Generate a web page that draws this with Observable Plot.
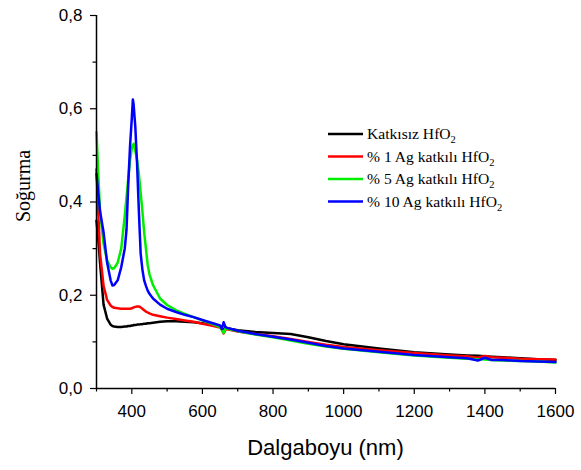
<!DOCTYPE html>
<html>
<head>
<meta charset="utf-8">
<script src="https://cdn.jsdelivr.net/npm/d3@7"></script>
<script src="https://cdn.jsdelivr.net/npm/@observablehq/plot@0.6"></script>
<style>
  html, body { margin: 0; padding: 0; background: white; }
  #chart { width: 581px; height: 470px; }
</style>
</head>
<body>
<div id="chart"></div>
<script>
const wavelength = [
  300,305,310,320,330,
  340,345,350,360,370,
  380,385,390,395,400,
  403,405,410,415,420,
  425,430,435,440,445,
  450,460,480,500,525,
  550,575,600,625,650,
  655,660,665,670,700,
  750,800,850,900,950,
  1000,1100,1200,1300,1350,
  1380,1400,1420,1450,1500,
  1550,1600
];
const katkisiz = [
  .36,.32,.27,.18,.15,
  .137,.134,.133,.132,.132,
  .133,.133,.134,.134,.135,
  .135,.136,.136,.137,.137,
  .138,.138,.139,.139,.140,
  .140,.141,.143,.144,.144,
  .143,.142,.140,.137,.133,
  .130,.124,.131,.129,.125,
  .121,.119,.117,.110,.102,
  .095,.086,.078,.073,.071,
  .070,.069,.068,.067,.065,
  .063,.061
];
const ag1 = [
  .47,.38,.29,.22,.19,
  .178,.175,.173,.172,.171,
  .171,.171,.171,.171,.172,
  .173,.174,.175,.176,.176,
  .174,.171,.168,.165,.163,
  .161,.158,.155,.152,.149,
  .146,.143,.139,.135,.131,
  .126,.118,.126,.127,.122,
  .117,.112,.106,.100,.094,
  .089,.082,.076,.071,.069,
  .066,.070,.067,.066,.064,
  .063,.062
];
const ag5 = [
  .55,.46,.38,.31,.275,
  .26,.257,.258,.27,.30,
  .37,.41,.45,.49,.515,
  .522,.525,.51,.49,.46,
  .42,.38,.335,.30,.265,
  .245,.222,.193,.179,.168,
  .160,.153,.146,.139,.132,
  .126,.119,.128,.128,.123,
  .116,.110,.103,.096,.090,
  .085,.078,.071,.066,.064,
  .063,.062,.061,.060,.059,
  .058,.056
];
const ag10 = [
  .46,.42,.38,.335,.27,
  .232,.221,.222,.232,.26,
  .30,.34,.44,.52,.58,
  .62,.61,.56,.48,.38,
  .29,.255,.232,.22,.21,
  .203,.193,.180,.171,.164,
  .158,.153,.147,.141,.135,
  .128,.142,.132,.130,.124,
  .117,.111,.105,.098,.091,
  .086,.079,.072,.067,.065,
  .060,.066,.061,.061,.059,
  .058,.057
];
const seriesNames = ["Katkısız HfO", "% 1 Ag katkılı HfO", "% 5 Ag katkılı HfO", "% 10 Ag katkılı HfO"];
const seriesValues = [katkisiz, ag1, ag5, ag10];
const seriesColors = ["#000000", "#ff0000", "#00ee00", "#0000ff"];
const xTicks = [400, 600, 800, 1000, 1200, 1400, 1600];
const xMinorTicks = [300, 500, 700, 900, 1100, 1300, 1500];
const yTicks = [0, 0.2, 0.4, 0.6, 0.8];
const yMinorTicks = [0.1, 0.3, 0.5, 0.7];
const xLabel = "Dalgaboyu (nm)";
const yLabel = "Soğurma";

const data = [];
seriesNames.forEach((name, i) => {
  wavelength.forEach((w, j) => data.push({series: name, wavelength: w, value: seriesValues[i][j]}));
});

const fmt = d => d.toFixed(1).replace(".", ",");

const plot = Plot.plot({
  width: 581,
  height: 470,
  marginLeft: 96,
  marginRight: 26,
  marginTop: 15,
  marginBottom: 82,
  x: {domain: [300, 1600]},
  y: {domain: [0, 0.8]},
  color: {domain: seriesNames, range: seriesColors},
  style: {fontFamily: "'Liberation Sans', Arial, sans-serif", fontSize: "17px", color: "black", background: "white", overflow: "visible"},
  marks: [
    Plot.axisX({ticks: xTicks, tickSize: 6, tickPadding: 10, tickFormat: d => String(d), label: null, stroke: "black", strokeWidth: 1.2, fill: "black"}),
    Plot.axisX({ticks: xMinorTicks, tickSize: 3.5, tickFormat: () => "", label: null, stroke: "black", strokeWidth: 1.2}),
    Plot.axisY({ticks: yTicks, tickSize: 6, tickPadding: 8, tickFormat: fmt, label: null, stroke: "black", strokeWidth: 1.2, fill: "black"}),
    Plot.axisY({ticks: yMinorTicks, tickSize: 3.5, tickFormat: () => "", label: null, stroke: "black", strokeWidth: 1.2}),
    Plot.lineY(data, {x: "wavelength", y: "value", stroke: "series", z: "series", strokeWidth: 2.5, strokeLinejoin: "round"}),
    Plot.ruleX([300], {stroke: "black", strokeWidth: 1.5}),
    Plot.ruleY([0], {stroke: "black", strokeWidth: 1.5})
  ]
});

const svg = d3.select(plot);
// axis titles
svg.append("text")
  .attr("x", 325.5).attr("y", 455)
  .attr("text-anchor", "middle")
  .style("font-family", "'Liberation Sans', Arial, sans-serif")
  .style("font-size", "22px")
  .attr("fill", "black")
  .text(xLabel);
svg.append("text")
  .attr("transform", "translate(30,186) rotate(-90)")
  .attr("text-anchor", "middle")
  .style("font-family", "'Liberation Serif', 'Times New Roman', serif")
  .style("font-size", "20px")
  .attr("fill", "black")
  .text(yLabel);

// legend
const lg = svg.append("g").attr("transform", "translate(328,134)");
seriesNames.forEach((name, i) => {
  const row = lg.append("g").attr("transform", `translate(0,${i * 22.5})`);
  row.append("line").attr("x1", 0).attr("x2", 35).attr("y1", 0).attr("y2", 0)
    .attr("stroke", seriesColors[i]).attr("stroke-width", 2.5);
  const t = row.append("text").attr("x", 39).attr("y", 5)
    .attr("text-anchor", "start")
    .style("font-family", "'Liberation Serif', 'Times New Roman', serif")
    .style("font-size", "15.6px")
    .attr("fill", "black");
  t.append("tspan").text(name);
  t.append("tspan").attr("dy", 4).style("font-size", "10.5px").text("2");
});

document.getElementById("chart").appendChild(plot);
</script>
</body>
</html>
